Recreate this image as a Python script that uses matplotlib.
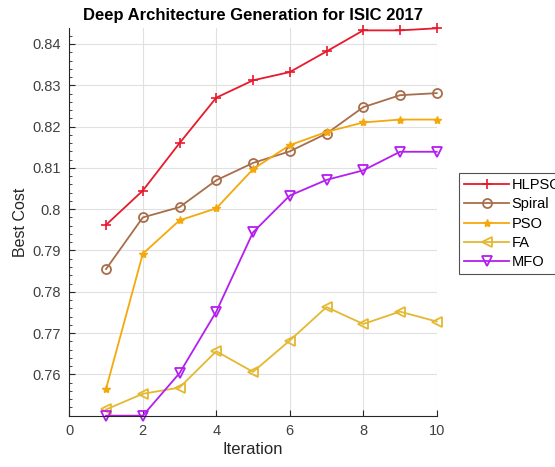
import matplotlib
matplotlib.use("Agg")
import matplotlib.pyplot as plt
from matplotlib.ticker import MultipleLocator, AutoMinorLocator

iterations = [1, 2, 3, 4, 5, 6, 7, 8, 9, 10]
hlpso = [0.7962, 0.8045, 0.8160, 0.8270, 0.8312, 0.8332, 0.8382, 0.8433, 0.8433, 0.8438]
spiral = [0.7855, 0.7980, 0.8005, 0.8070, 0.8112, 0.8140, 0.8183, 0.8247, 0.8276, 0.8281]
pso = [0.7565, 0.7892, 0.7973, 0.8002, 0.8097, 0.8155, 0.8187, 0.8210, 0.8217, 0.8217]
fa = [0.7515, 0.7553, 0.7568, 0.7656, 0.7606, 0.7682, 0.7763, 0.7722, 0.7752, 0.7728]
mfo = [0.7500, 0.7500, 0.7603, 0.7752, 0.7944, 0.8033, 0.8071, 0.8094, 0.8139, 0.8139]
series_names = ["HLPSO", "Spiral", "PSO", "FA", "MFO"]

plt.rcParams['font.family'] = ['Liberation Sans', 'DejaVu Sans']

fig = plt.figure(figsize=(5.55, 4.67), dpi=100)
ax = fig.add_axes([0.1249, 0.1099, 0.7869 - 0.1249, 0.9394 - 0.1099])

lw = 1.3
common = dict(lw=lw, clip_on=False)
ax.plot(iterations, hlpso, color='#e8192c', marker='+', markersize=7.5, mew=1.2, label=series_names[0], **common)
ax.plot(iterations, spiral, color='#a86e4a', marker='o', markersize=6.5, mfc='none', mew=1.3, label=series_names[1], **common)
ax.plot(iterations, pso, color='#f5a80c', marker='*', markersize=6, mew=1.0, label=series_names[2], **common)
ax.plot(iterations, fa, color='#e5b831', marker='<', markersize=7, mfc='none', mew=1.3, label=series_names[3], **common)
ax.plot(iterations, mfo, color='#b41ef0', marker='v', markersize=7, mfc='none', mew=1.3, label=series_names[4], **common)

ax.set_xlim(0, 10)
ax.set_ylim(min(mfo), max(hlpso))
ax.xaxis.set_major_locator(MultipleLocator(2))
ax.set_yticks([0.76, 0.77, 0.78, 0.79, 0.80, 0.81, 0.82, 0.83, 0.84])
ax.set_yticklabels(['0.76', '0.77', '0.78', '0.79', '0.8', '0.81', '0.82', '0.83', '0.84'])
ax.yaxis.set_minor_locator(AutoMinorLocator(5))

ax.grid(True, which='major', color='#e0e0e0', lw=0.8)
ax.set_axisbelow(True)
for s in ['top', 'right']:
    ax.spines[s].set_visible(False)
for s in ['left', 'bottom']:
    ax.spines[s].set_color('#262626')
    ax.spines[s].set_linewidth(0.8)
ax.tick_params(axis='both', which='major', direction='in', length=4, labelsize=10.5, colors='#262626', labelcolor='#404040', pad=6)
ax.tick_params(axis='y', which='minor', direction='in', length=2, colors='#262626')

ax.set_xlabel('Iteration', fontsize=12, color='#262626', labelpad=3)
ax.set_ylabel('Best Cost', fontsize=11.5, color='#262626', labelpad=3)
ax.set_title('Deep Architecture Generation for ISIC 2017', fontsize=12, fontweight='bold', pad=6)

leg = ax.legend(loc='upper left', bbox_to_anchor=(459 / 555, 1 - 173 / 467), bbox_transform=fig.transFigure,
                fontsize=10.5, frameon=True, fancybox=False, edgecolor='#262626', handlelength=3.1,
                borderpad=0.35, labelspacing=0.36, handletextpad=0.15, borderaxespad=0)
leg.get_frame().set_linewidth(0.8)

fig.savefig('out.png', dpi=100)
